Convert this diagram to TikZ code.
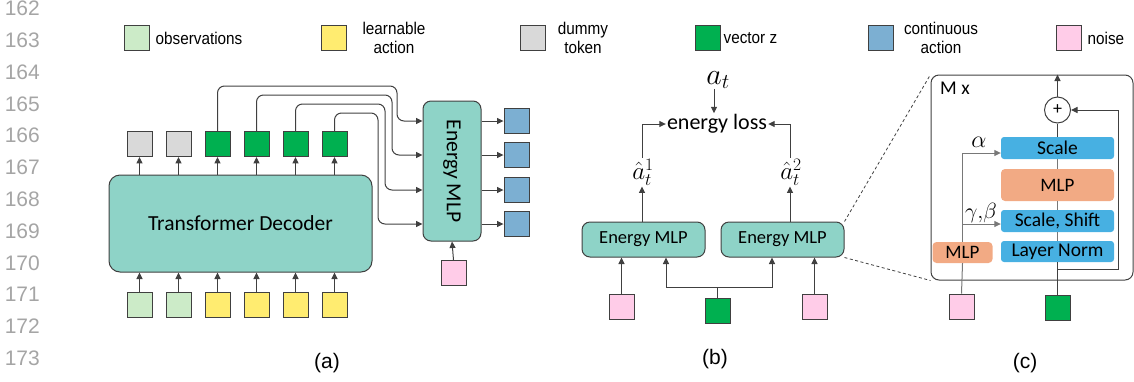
\RequirePackage{fix-cm}
\documentclass[tikz,border=0pt]{standalone}
\usepackage{amsmath}
\usepackage{fontspec}
\setmainfont{Carlito}
\newfontfamily\legendfont[FakeStretch=0.9]{Liberation Sans}
\newfontfamily\arialfont{Liberation Sans}
\usetikzlibrary{arrows.meta,positioning}

\definecolor{obsgreen}{RGB}{204,235,200}
\definecolor{actyellow}{RGB}{255,236,112}
\definecolor{dummygray}{RGB}{217,217,217}
\definecolor{zgreen}{RGB}{0,176,80}
\definecolor{contblue}{RGB}{124,175,210}
\definecolor{noisepink}{RGB}{255,204,232}
\definecolor{decteal}{RGB}{142,211,199}
\definecolor{skyblue}{RGB}{71,176,226}
\definecolor{salmon}{RGB}{242,170,132}
\definecolor{wiregray}{RGB}{64,64,64}
\definecolor{lightwire}{RGB}{120,120,120}
\definecolor{numgray}{RGB}{165,165,165}

\tikzset{
  tok/.style={draw=wiregray,line width=0.9pt,minimum size=25pt,inner sep=0pt},
  wire/.style={draw=wiregray,line width=1pt},
  arr/.style={wire,-{Triangle[length=6.5pt,width=6pt]}},
  tealbox/.style={draw=wiregray,line width=1pt,fill=decteal,rounded corners=8pt,inner sep=0pt},
  layerbox/.style={fill=skyblue,rounded corners=3pt,minimum width=113pt,minimum height=22pt,inner sep=0pt,font=\fontsize{19.5}{20}\selectfont},
  mlpbox/.style={fill=salmon,rounded corners=4pt,inner sep=0pt,font=\fontsize{19}{20}\selectfont},
  legend/.style={inner sep=0pt,align=center,font=\legendfont\fontsize{17}{18.5}\selectfont},
  num/.style={inner sep=0pt,anchor=east,text=numgray,font=\arialfont\fontsize{21}{21}\selectfont},
  caption/.style={inner sep=0pt,font=\arialfont\fontsize{21}{21}\selectfont},
}

\begin{document}
\begin{tikzpicture}[x=1pt,y=-1pt]
  \useasboundingbox (0,0) rectangle (1134,381);

  % line numbers
  \foreach \n [count=\i from 0] in {162,...,173}
    \node[num] (num\n) at (40,8.5+31.8*\i) {\n};

  % legend
  \node[tok,fill=obsgreen] (lobs) at (136.5,38) {};
  \node[legend,right=6pt of lobs] (tobs) {observations};
  \node[tok,fill=actyellow] (lact) at (333.5,38) {};
  \node[legend] (tact) at (394,38) {learnable\\action};
  \node[tok,fill=dummygray] (ldum) at (532.5,38) {};
  \node[legend] (tdum) at (583,38) {dummy\\token};
  \node[tok,fill=zgreen] (lvec) at (707.5,38) {};
  \node[legend,right=3pt of lvec] (tvec) {vector z};
  \node[tok,fill=contblue] (lcon) at (880.5,38) {};
  \node[legend] (tcon) at (941,38) {continuous\\action};
  \node[tok,fill=noisepink] (lnoi) at (1068.5,38) {};
  \node[legend,right=6pt of lnoi] (tnoi) {noise};

  % (a)
  \node[tealbox,rounded corners=11pt,minimum width=263pt,minimum height=97pt,
        font=\fontsize{21.5}{24}\selectfont] (dec) at (240.5,223.5) {Transformer Decoder};
  \foreach \i/\c in {1/dummygray,2/dummygray,3/zgreen,4/zgreen,5/zgreen,6/zgreen}
    \node[tok,fill=\c] (top\i) at (100.5+39*\i,144) {};
  \foreach \i/\c in {1/obsgreen,2/obsgreen,3/actyellow,4/actyellow,5/actyellow,6/actyellow}
    \node[tok,fill=\c] (bot\i) at (100.5+39*\i,304.5) {};
  \foreach \i in {1,...,6} {
    \draw[arr] (dec.north -| top\i) -- (top\i.south);
    \draw[arr] (bot\i.north) -- (bot\i.north |- dec.south);
  }
  \node[tealbox,minimum width=58pt,minimum height=140pt] (mlpa) at (452,171)
    {\rotatebox{-90}{\fontsize{21.5}{24}\selectfont Energy MLP}};
  \foreach \c/\y in {1/121,2/155,3/190,4/224}
    \node[tok,fill=contblue] (cont\c) at (516.5,\y) {};
  \foreach \t/\h/\v/\c in {3/86/397/1,4/95/392/2,5/104/385/3,6/113/378/4} {
    \draw[arr,rounded corners=7pt] (top\t.north) |- (\v,\h) |- (mlpa.west |- cont\c);
    \draw[arr] (mlpa.east |- cont\c) -- (cont\c.west);
  }
  \node[tok,fill=noisepink] (noisea) at (453.5,273) {};
  \draw[arr] (noisea.north) -- (mlpa.south);
  \node[caption] (capa) at (327,363) {(a)};

  % (b)
  \node[inner sep=0pt,font=\fontsize{30}{32}\selectfont] (at) at (718,80) {$a_t$};
  \node[inner sep=1pt,font=\fontsize{22}{24}\selectfont] (loss) at (717,124) {energy loss};
  \draw[arr] (at.south -| 714,0) -- (loss.north -| 714,0);
  \node[inner sep=1pt,font=\fontsize{25}{26}\selectfont] (ah1) at (643,172) {$\hat{a}_t^1$};
  \node[inner sep=1pt,font=\fontsize{25}{26}\selectfont] (ah2) at (791,172) {$\hat{a}_t^2$};
  \draw[arr] (ah1.north -| 642,0) |- (loss.west);
  \draw[arr] (ah2.north -| 790,0) |- (loss.east);
  \node[tealbox,minimum width=123pt,minimum height=35pt,
        font=\fontsize{18.5}{20}\selectfont] (eb1) at (643.5,239.5) {Energy MLP};
  \node[tealbox,minimum width=123pt,minimum height=35pt,
        font=\fontsize{18.5}{20}\selectfont] (eb2) at (782.5,239.5) {Energy MLP};
  \draw[arr] (eb1.north -| 642,0) -- (ah1.south -| 642,0);
  \draw[arr] (eb2.north -| 790,0) -- (ah2.south -| 790,0);
  \node[tok,fill=noisepink] (nb1) at (621.5,307) {};
  \node[tok,fill=noisepink] (nb2) at (814.5,307) {};
  \node[tok,fill=zgreen] (zb) at (717.5,310.5) {};
  \draw[arr] (nb1.north) -- (nb1.north |- eb1.south);
  \draw[arr] (nb2.north) -- (nb2.north |- eb2.south);
  \coordinate (zl) at (666,287);
  \coordinate (zr) at (772,287);
  \draw[arr] (zb.north) |- (zl) -- (zl |- eb1.south);
  \draw[arr] (zb.north) |- (zr) -- (zr |- eb2.south);
  \node[caption] (capb) at (715,359) {(b)};

  % (c)
  \node[draw=wiregray,line width=1pt,rounded corners=8pt,minimum width=202pt,
        minimum height=205pt] (mx) at (1032,177.5) {};
  \draw[wiregray,dashed,line width=0.8pt,dash pattern=on 3pt off 2.5pt] (eb2.north east) -- (mx.north west);
  \draw[wiregray,dashed,line width=0.8pt,dash pattern=on 3pt off 2.5pt] (eb2.south east) -- (mx.south west);
  \node[inner sep=0pt,anchor=west,font=\fontsize{19.5}{20}\selectfont] (mlab) at (940,88) {M x};
  \node[draw=wiregray,line width=1pt,circle,minimum size=26pt,inner sep=0pt,
        font=\fontsize{18}{18}\selectfont] (plus) at (1057.5,110) {+};
  \node[layerbox] (sc) at (1057.5,148) {Scale};
  \node[mlpbox,minimum width=113pt,minimum height=32pt] (mlpc) at (1057.5,185) {MLP};
  \node[layerbox] (ss) at (1057.5,221) {Scale, Shift};
  \node[layerbox,minimum height=21pt] (lnm) at (1057.5,251.5) {Layer Norm};
  \node[mlpbox,minimum width=60pt,minimum height=21pt] (mlps) at (962.5,252.5) {MLP};
  \node[tok,fill=noisepink] (nc) at (961.5,306.5) {};
  \node[tok,fill=zgreen] (zc) at (1057.5,307.5) {};
  \draw[lightwire,line width=1pt] (lnm.north) -- (ss.south) (ss.north) -- (mlpc.south) (mlpc.north) -- (sc.south);
  \draw[wire] (zc.north) -- (lnm.south);
  \draw[wire] (sc.north) -- (plus.south);
  \draw[arr] (plus.north) -- (plus.north |- mx.north);
  \coordinate (split) at (1057.5,269);
  \draw[arr] (split) -- (1118,269) |- (plus.east);
  \draw[lightwire,line width=1pt] (nc.north) -- (mlps.south);
  \draw[arr,draw=lightwire] (mlps.north) |- ([yshift=-5pt]sc.west);
  \draw[arr,draw=lightwire] (mlps.north) |- ([yshift=-3pt]ss.west);
  \node[inner sep=0pt,font=\fontsize{24}{24}\selectfont] (alab) at (979,142) {$\alpha$};
  \node[inner sep=0pt,font=\fontsize{22}{22}\selectfont] (gblab) at (981,213) {$\gamma{,}\beta$};
  \node[caption] (capc) at (1025,363) {(c)};
\end{tikzpicture}
\end{document}
